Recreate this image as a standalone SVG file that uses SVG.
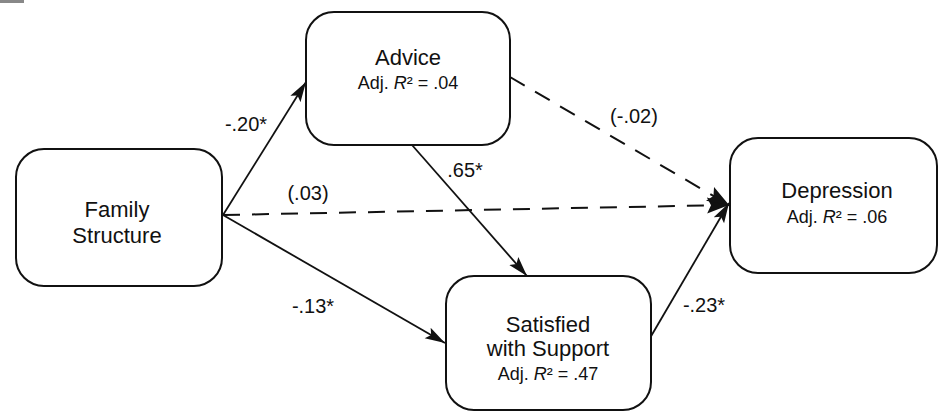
<svg xmlns="http://www.w3.org/2000/svg" width="942" height="413" viewBox="0 0 942 413">
<defs>
<style>
.box{fill:#fff;stroke:#111;stroke-width:2}
.t{font-family:"Liberation Sans",Arial,sans-serif;font-size:22px;fill:#111;text-anchor:middle}
.s{font-family:"Liberation Sans",Arial,sans-serif;font-size:18px;fill:#111;text-anchor:middle}
.lab{font-family:"Liberation Sans",Arial,sans-serif;font-size:20px;fill:#111;text-anchor:middle}
.ln{stroke:#111;stroke-width:1.8;fill:none}
.dash{stroke-dasharray:17 12;stroke-width:2}
</style>
<marker id="ah" markerUnits="userSpaceOnUse" markerWidth="22" markerHeight="14" refX="20" refY="7" orient="auto">
<path d="M0,1 L20,7 L0,13 L4,7 Z" fill="#111"/>
</marker>
<marker id="ahb" markerUnits="userSpaceOnUse" markerWidth="24" markerHeight="18" refX="22" refY="9" orient="auto">
<path d="M0,1 L22,9 L0,17 L4,9 Z" fill="#111"/>
</marker>
</defs>
<rect x="0" y="0" width="24" height="3" fill="#888"/>
<g id="connectors">
<line class="ln" x1="223" y1="215" x2="306" y2="82" marker-end="url(#ah)"/>
<line class="ln" x1="223" y1="215" x2="445" y2="343" marker-end="url(#ah)"/>
<line class="ln dash" x1="223" y1="215" x2="729" y2="205" marker-end="url(#ahb)"/>
<line class="ln dash" x1="510" y1="77" x2="729" y2="205" marker-end="url(#ahb)"/>
<line class="ln" x1="412" y1="145" x2="527" y2="276" marker-end="url(#ah)"/>
<line class="ln" x1="650" y1="338" x2="729" y2="203" marker-end="url(#ah)"/>
<text class="lab" x="246" y="131">-.20*</text>
<text class="lab" x="308" y="200">(.03)</text>
<text class="lab" x="465" y="177">.65*</text>
<text class="lab" x="634" y="123">(-.02)</text>
<text class="lab" x="313" y="313">-.13*</text>
<text class="lab" x="704" y="312">-.23*</text>
</g>
<g id="family">
<rect class="box" x="16" y="149" width="206" height="137" rx="28"/>
<text class="t" x="117" y="217">Family</text>
<text class="t" x="117" y="243">Structure</text>
</g>
<g id="advice">
<rect class="box" x="306" y="12" width="204" height="133" rx="28"/>
<text class="t" x="408" y="65">Advice</text>
<text class="s" x="408" y="89">Adj. <tspan font-style="italic">R</tspan>² = .04</text>
</g>
<g id="satisfied">
<rect class="box" x="446" y="276" width="205" height="134" rx="28"/>
<text class="t" x="548" y="332">Satisfied</text>
<text class="t" x="548" y="356">with Support</text>
<text class="s" x="548" y="380">Adj. <tspan font-style="italic">R</tspan>² = .47</text>
</g>
<g id="depression">
<rect class="box" x="730" y="138" width="207" height="135" rx="28"/>
<text class="t" x="837" y="198">Depression</text>
<text class="s" x="837" y="223">Adj. <tspan font-style="italic">R</tspan>² = .06</text>
</g>
</svg>
